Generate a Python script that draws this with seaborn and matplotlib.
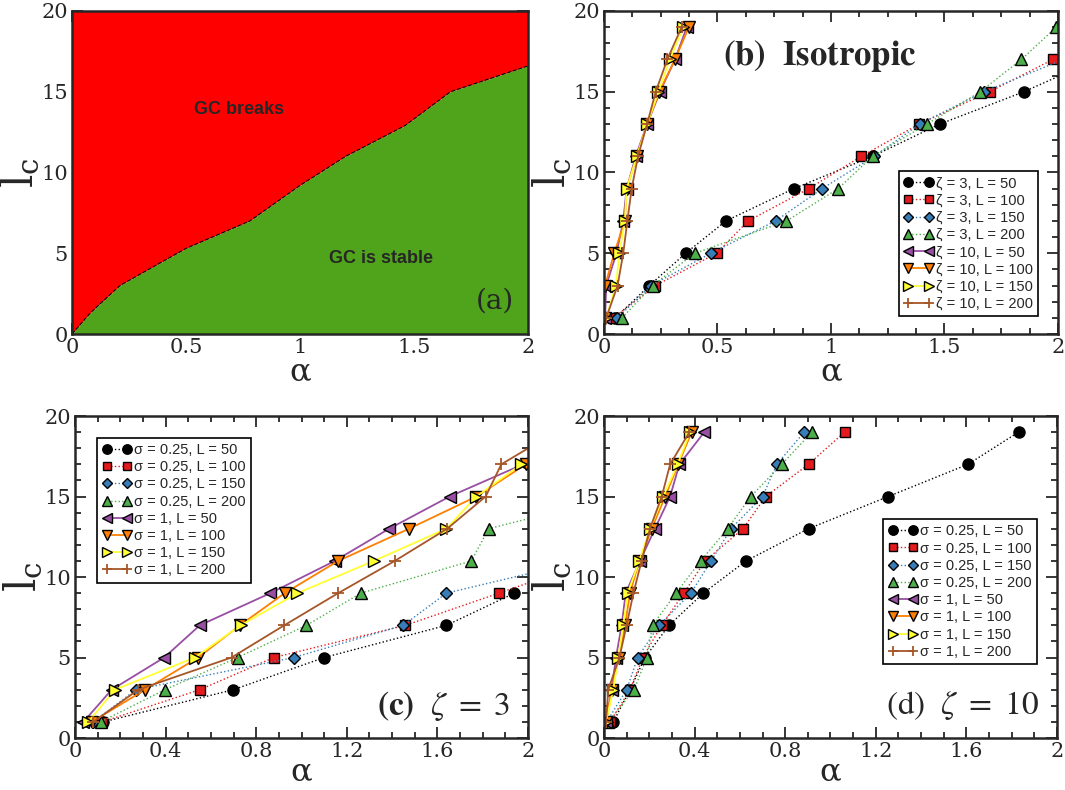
import matplotlib
matplotlib.use("Agg")
import matplotlib.pyplot as plt
import seaborn as sns
from matplotlib.ticker import MultipleLocator

sns.set_style("ticks")
plt.rcParams['font.family'] = ['DejaVu Serif']
plt.rcParams['mathtext.fontset'] = 'stix'

# ---- panel (a): phase boundary
a_alpha = [0, 0.08, 0.21, 0.50, 0.78, 1.0, 1.2, 1.46, 1.66, 2.0]
a_lc = [0, 1.3, 3.0, 5.3, 7.0, 9.2, 11.0, 12.9, 15.0, 16.6]

# ---- panel (b): isotropic
lc_odd = [1, 3, 5, 7, 9, 11, 13, 15, 17, 19]
b_z3_L50 = [0.05, 0.20, 0.36, 0.537, 0.836, 1.183, 1.48, 1.85, 2.17]
b_z3_L100 = [0.041, 0.227, 0.496, 0.635, 0.902, 1.134, 1.388, 1.699, 1.978]
b_z3_L150 = [0.059, 0.207, 0.471, 0.756, 0.961, 1.19, 1.391, 1.674, 2.025]
b_z3_L200 = [0.08, 0.214, 0.40, 0.804, 1.032, 1.183, 1.423, 1.658, 1.839, 1.993]
b_z10_L50 = [0.005, 0.01, 0.055, 0.085, 0.10, 0.14, 0.19, 0.247, 0.313, 0.365]
b_z10_L100 = [0.005, 0.005, 0.045, 0.092, 0.10, 0.145, 0.19, 0.244, 0.313, 0.374]
b_z10_L150 = [0.01, 0.053, 0.068, 0.092, 0.10, 0.145, 0.19, 0.24, 0.29, 0.35]
b_z10_L200 = [0.01, 0.06, 0.085, 0.103, 0.122, 0.15, 0.19, 0.228, 0.279, 0.342]

# ---- panel (c): zeta = 3
c_s025_L50 = [0.125, 0.699, 1.10, 1.64, 1.94]
c_s025_L100 = [0.12, 0.551, 0.878, 1.459, 1.872, 2.28]
c_s025_L150 = [0.08, 0.269, 0.966, 1.449, 1.64, 2.24]
c_s025_L200 = [0.113, 0.397, 0.718, 1.022, 1.262, 1.75, 1.826, 2.39]
c_s1_L50 = [0.037, 0.162, 0.394, 0.551, 0.863, 1.147, 1.387, 1.654, 1.978]
c_s1_L100 = [0.074, 0.309, 0.544, 0.728, 0.926, 1.162, 1.475, 1.772, 1.99, 2.05]
c_s1_L150 = [0.059, 0.176, 0.529, 0.731, 0.982, 1.319, 1.64, 1.772, 1.97]
c_s1_L200 = [0.081, 0.279, 0.691, 0.924, 1.162, 1.412, 1.643, 1.813, 1.882, 2.12]

# ---- panel (d): zeta = 10
d_s025_L50 = [0.041, 0.115, 0.181, 0.287, 0.439, 0.627, 0.903, 1.255, 1.607, 1.83]
d_s025_L100 = [0.027, 0.115, 0.171, 0.255, 0.353, 0.446, 0.614, 0.714, 0.903, 1.062]
d_s025_L150 = [0.012, 0.10, 0.149, 0.243, 0.384, 0.473, 0.561, 0.70, 0.763, 0.884]
d_s025_L200 = [0.019, 0.133, 0.189, 0.215, 0.318, 0.427, 0.546, 0.648, 0.785, 0.918]
d_s1_L50 = [0.009, 0.034, 0.053, 0.078, 0.096, 0.159, 0.225, 0.292, 0.333, 0.443]
d_s1_L100 = [0.009, 0.034, 0.066, 0.093, 0.115, 0.156, 0.211, 0.27, 0.328, 0.387]
d_s1_L150 = [0.009, 0.041, 0.063, 0.085, 0.105, 0.156, 0.203, 0.262, 0.325, 0.38]
d_s1_L200 = [0.009, 0.019, 0.068, 0.10, 0.13, 0.166, 0.203, 0.255, 0.292, 0.377]

# black + Set1 (red, blue, green, purple, orange, yellow, brown)
colors = ['black'] + sns.color_palette("Set1", 7)
markers = ['o', 's', 'D', '^', '<', 'v', '>', '+']
msizes = [8, 7, 6.5, 8, 8, 8, 8, 9]
lstyles = [':', ':', ':', ':', '-', '-', '-', '-']


def series(ax, xs, i, label):
    ys = lc_odd[:len(xs)]
    edge = colors[i] if markers[i] == '+' else 'black'
    sns.lineplot(x=xs, y=ys, ax=ax, sort=False, estimator=None, color=colors[i],
                 linestyle=lstyles[i], linewidth=1.0 if i < 4 else 1.3,
                 marker=markers[i], markersize=msizes[i], markeredgecolor=edge,
                 markeredgewidth=1.0 if markers[i] != '+' else 1.3, label=label)


def style(ax, xmajor, xminor, xpad):
    ax.set_xlim(0, 2)
    ax.set_ylim(0, 20)
    ax.xaxis.set_major_locator(MultipleLocator(xmajor))
    ax.xaxis.set_minor_locator(MultipleLocator(xminor))
    ax.yaxis.set_major_locator(MultipleLocator(5))
    ax.yaxis.set_minor_locator(MultipleLocator(1))
    ax.tick_params(which='both', direction='in', top=True, right=True,
                   labelsize=15, width=1.3)
    ax.tick_params(which='major', length=8, pad=3)
    ax.tick_params(which='minor', length=4)
    for s in ax.spines.values():
        s.set_linewidth(1.8)
    ax.set_xlabel(r'$\mathregular{\alpha}$', fontsize=23, labelpad=xpad)
    ax.set_ylabel(r'$\mathregular{l_c}$', fontsize=30, labelpad=0)
    ax.xaxis.set_major_formatter(plt.FuncFormatter(lambda v, p: f'{v:g}'))


fig = plt.figure(figsize=(10.65, 7.9), dpi=100)
ax_a = fig.add_axes([0.0676, 0.5772, 0.4282, 0.4089])
ax_b = fig.add_axes([0.5671, 0.5772, 0.4263, 0.4089])
ax_c = fig.add_axes([0.0704, 0.0658, 0.4254, 0.4076])
ax_d = fig.add_axes([0.5671, 0.0658, 0.4254, 0.4076])

# panel (a)
ax_a.fill_between(a_alpha, a_lc, 20, color='#ff0000', linewidth=0)
ax_a.fill_between(a_alpha, 0, a_lc, color='#50a41b', linewidth=0)
sns.lineplot(x=a_alpha, y=a_lc, ax=ax_a, sort=False, estimator=None,
             color='black', linestyle='--', linewidth=0.8)
ax_a.text(0.733, 13.9, 'GC breaks', ha='center', va='center', fontsize=13,
          fontweight='bold', family='Liberation Sans')
ax_a.text(1.354, 4.7, 'GC is stable', ha='center', va='center', fontsize=13,
          fontweight='bold', family='Liberation Sans')
ax_a.text(0.97, 0.06, '(a)', transform=ax_a.transAxes, ha='right', va='bottom',
          fontsize=20)
style(ax_a, 0.5, 0.125, 0)

# panel (b)
b_sets = [b_z3_L50, b_z3_L100, b_z3_L150, b_z3_L200,
          b_z10_L50, b_z10_L100, b_z10_L150, b_z10_L200]
b_labels = ['ζ = 3, L = 50', 'ζ = 3, L = 100', 'ζ = 3, L = 150', 'ζ = 3, L = 200',
            'ζ = 10, L = 50', 'ζ = 10, L = 100', 'ζ = 10, L = 150', 'ζ = 10, L = 200']
for i, (xs, lab) in enumerate(zip(b_sets, b_labels)):
    series(ax_b, xs, i, lab)
ax_b.text(0.475, 0.86, r'$\mathbf{(b)\ \ Isotropic}$', transform=ax_b.transAxes,
          ha='center', va='center', fontsize=25)
style(ax_b, 0.5, 0.125, 0)

# panel (c)
s_labels = ['σ = 0.25, L = 50', 'σ = 0.25, L = 100', 'σ = 0.25, L = 150',
            'σ = 0.25, L = 200', 'σ = 1, L = 50', 'σ = 1, L = 100',
            'σ = 1, L = 150', 'σ = 1, L = 200']
c_sets = [c_s025_L50, c_s025_L100, c_s025_L150, c_s025_L200,
          c_s1_L50, c_s1_L100, c_s1_L150, c_s1_L200]
for i, (xs, lab) in enumerate(zip(c_sets, s_labels)):
    series(ax_c, xs, i, lab)
ax_c.text(0.96, 0.1, r'$\mathbf{(c)}\ \ \zeta\ =\ 3$', transform=ax_c.transAxes,
          ha='right', va='center', fontsize=24)
style(ax_c, 0.4, 0.1, -3)

# panel (d)
d_sets = [d_s025_L50, d_s025_L100, d_s025_L150, d_s025_L200,
          d_s1_L50, d_s1_L100, d_s1_L150, d_s1_L200]
for i, (xs, lab) in enumerate(zip(d_sets, s_labels)):
    series(ax_d, xs, i, lab)
ax_d.text(0.96, 0.1, r'$\mathrm{(d)}\ \ \zeta\ =\ 10$', transform=ax_d.transAxes,
          ha='right', va='center', fontsize=24)
style(ax_d, 0.4, 0.1, -3)

leg_kw = dict(numpoints=2, frameon=True, fancybox=False, markerscale=0.85,
              framealpha=1, edgecolor='black', borderaxespad=0, labelspacing=0.22,
              handlelength=2.0, handletextpad=0.2, borderpad=0.35,
              prop={'family': 'Liberation Sans', 'size': 10.5})
for ax, loc, anchor in [(ax_b, 'lower right', (0.956, 0.056)),
                        (ax_c, 'upper left', (0.049, 0.932)),
                        (ax_d, 'lower right', (0.956, 0.23))]:
    leg = ax.legend(loc=loc, bbox_to_anchor=anchor, **leg_kw)
    leg.get_frame().set_linewidth(1.2)
if ax_a.get_legend() is not None:
    ax_a.get_legend().remove()

fig.savefig('out.png', dpi=100)
